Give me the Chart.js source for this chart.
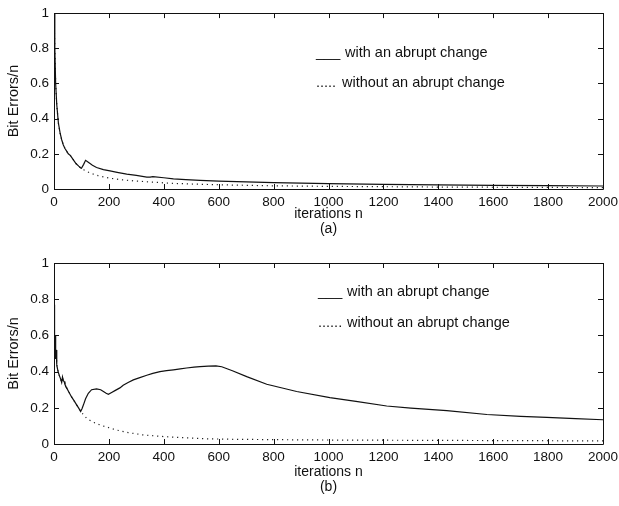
<!DOCTYPE html>
<html>
<head>
<meta charset="utf-8">
<script src="https://cdn.jsdelivr.net/npm/chart.js@4/dist/chart.umd.min.js"></script>
<style>
  html, body { margin: 0; padding: 0; background: #fff; }
  #wrap { position: relative; width: 619px; height: 506px; overflow: hidden; }
  .panel { position: absolute; left: 0; width: 619px; }
  #pa { top: 0; height: 240px; }
  #pb { top: 245px; height: 261px; }
</style>
</head>
<body>
<div id="wrap">
  <div class="panel" id="pa"><canvas id="ca"></canvas></div>
  <div class="panel" id="pb"><canvas id="cb"></canvas></div>
</div>
<script>
// ---------- data ----------
const seriesLabels = ['with an abrupt change', 'without an abrupt change'];
const xTicks = [0, 200, 400, 600, 800, 1000, 1200, 1400, 1600, 1800, 2000];
const yTicks = [0, 0.2, 0.4, 0.6, 0.8, 1];

// (a) with an abrupt change
const aWithN = [0,3,6,10,16,22,28,34,40,46,52,60,70,80,90,97,100,108,115,125,140,155,180,204,230,265,300,338,350,360,400,435,480,532,600,700,800,900,1000,1200,1400,1600,1800,2000];
const aWithV = [1,0.8,0.6,0.48,0.375,0.32,0.28,0.25,0.23,0.215,0.2,0.19,0.167,0.145,0.13,0.12,0.118,0.14,0.163,0.152,0.135,0.122,0.11,0.103,0.095,0.085,0.077,0.067,0.068,0.07,0.064,0.058,0.053,0.049,0.045,0.04,0.036,0.033,0.03,0.026,0.023,0.021,0.019,0.017];
// (a) without an abrupt change
const aWithoutN = [0,3,6,10,16,22,28,34,40,46,52,60,70,80,90,97,110,130,160,200,250,300,350,400,450,532,600,700,800,1000,1200,1400,1600,1800,2000];
const aWithoutV = [1,0.8,0.6,0.48,0.375,0.32,0.28,0.25,0.23,0.215,0.2,0.19,0.167,0.145,0.13,0.12,0.108,0.092,0.076,0.062,0.052,0.045,0.04,0.035,0.031,0.027,0.024,0.021,0.018,0.015,0.013,0.011,0.01,0.009,0.008];

// (b) with an abrupt change
const bWithN = [0,1,3,4,6,8,10,12,15,19,24,28,31,34,37,40,46,55,64,74,83,90,97,102,107,115,125,137,155,170,180,190,198,210,222,240,252,270,289,310,338,360,386,410,435,460,483,510,532,562,590,611,650,702,775,884,1005,1100,1212,1300,1431,1577,1700,1795,1900,2000];
const bWithV = [0.77,0.62,0.5,0.6,0.47,0.52,0.44,0.42,0.4,0.38,0.36,0.34,0.37,0.35,0.345,0.33,0.31,0.285,0.26,0.237,0.215,0.198,0.18,0.195,0.215,0.25,0.28,0.3,0.305,0.3,0.29,0.28,0.275,0.285,0.295,0.31,0.325,0.34,0.354,0.365,0.38,0.39,0.4,0.405,0.41,0.415,0.42,0.425,0.427,0.43,0.432,0.427,0.405,0.372,0.33,0.29,0.256,0.235,0.21,0.198,0.184,0.163,0.153,0.147,0.14,0.134];
// (b) without an abrupt change
const bWithoutN = [0,1,3,4,6,8,10,12,15,19,24,28,31,34,37,40,46,55,64,74,83,90,97,119,140,168,200,228,270,325,400,471,550,653,800,1000,1200,1400,1600,1800,2000];
const bWithoutV = [0.77,0.62,0.5,0.6,0.47,0.52,0.44,0.42,0.4,0.38,0.36,0.34,0.37,0.35,0.345,0.33,0.31,0.285,0.26,0.237,0.215,0.198,0.18,0.142,0.122,0.105,0.09,0.077,0.063,0.05,0.041,0.035,0.029,0.026,0.024,0.022,0.021,0.02,0.019,0.018,0.017];

// ---------- helpers ----------
function pts(xs, ys) { return xs.map((x, i) => ({ x: x, y: ys[i] })); }

const FONT = "'Liberation Sans', Arial, Helvetica, sans-serif";
const INK = '#111';

// Inward tick marks on all four sides + frame
const frameTicks = {
  id: 'frameTicks',
  afterDatasetsDraw(chart) {
    const { ctx, chartArea: a, scales } = chart;
    const L = 5;
    ctx.save();
    ctx.strokeStyle = INK;
    ctx.lineWidth = 1;
    ctx.beginPath();
    ctx.rect(Math.round(a.left) + 0.5, Math.round(a.top) + 0.5, Math.round(a.right - a.left), Math.round(a.bottom - a.top));
    ctx.stroke();
    ctx.beginPath();
    scales.x.ticks.forEach(t => {
      const px = Math.round(scales.x.getPixelForValue(t.value)) + 0.5;
      ctx.moveTo(px, a.bottom); ctx.lineTo(px, a.bottom - L);
      ctx.moveTo(px, a.top); ctx.lineTo(px, a.top + L);
    });
    scales.y.ticks.forEach(t => {
      const py = Math.round(scales.y.getPixelForValue(t.value)) + 0.5;
      ctx.moveTo(a.left, py); ctx.lineTo(a.left + L, py);
      ctx.moveTo(a.right, py); ctx.lineTo(a.right - L, py);
    });
    ctx.stroke();
    ctx.restore();
  }
};

// Text legend inside the axes, like the original figure
const textLegend = {
  id: 'textLegend',
  afterDraw(chart, args, opts) {
    const { ctx, chartArea: a } = chart;
    ctx.save();
    ctx.fillStyle = INK;
    ctx.font = '14.5px ' + FONT;
    ctx.textBaseline = 'middle';
    chart.data.datasets.forEach((ds, i) => {
      const y = a.top + opts.rows[i];
      ctx.fillText(opts.markers[i], a.left + opts.sampleX, y);
      ctx.fillText(ds.label, a.left + opts.textX[i], y);
    });
    ctx.restore();
  }
};

function makeChart(canvasId, dsWith, dsWithout, cfg) {
  return new Chart(document.getElementById(canvasId), {
    type: 'scatter',
    data: {
      datasets: [
        { label: seriesLabels[0], data: dsWith, showLine: true, borderColor: INK, borderWidth: 1.2, pointRadius: 0, tension: 0 },
        { label: seriesLabels[1], data: dsWithout, showLine: true, borderColor: '#222', borderWidth: 1.2, borderDash: [1.2, 3.8], pointRadius: 0, tension: 0 }
      ]
    },
    options: {
      responsive: true,
      maintainAspectRatio: false,
      animation: false,
      devicePixelRatio: 1,
      layout: { padding: { top: cfg.padTop, right: 16, left: 0, bottom: 0 } },
      plugins: {
        legend: { display: false },
        tooltip: { enabled: false },
        textLegend: cfg.legend
      },
      scales: {
        x: {
          type: 'linear', min: 0, max: 2000,
          afterBuildTicks(s) { s.ticks = xTicks.map(v => ({ value: v })); },
          afterFit(s) { s.height = cfg.xHeight; s.paddingRight = 0; s.paddingLeft = 0; },
          grid: { display: false, drawTicks: false },
          border: { display: false },
          ticks: { color: INK, font: { family: FONT, size: 13.5 }, padding: cfg.xTickPad, maxRotation: 0, autoSkip: false,
                   callback: v => String(v) },
          title: { display: true, text: ['iterations n', cfg.caption], color: INK, font: { family: FONT, size: 14, lineHeight: 1.1 }, padding: { top: 0, bottom: cfg.titlePad } }
        },
        y: {
          type: 'linear', min: 0, max: 1,
          afterBuildTicks(s) { s.ticks = yTicks.map(v => ({ value: v })); },
          afterFit(s) { s.width = 54; },
          grid: { display: false, drawTicks: false },
          border: { display: false },
          ticks: { color: INK, font: { family: FONT, size: 13.5 }, padding: 5, callback: v => String(v) },
          title: { display: true, text: 'Bit Errors/n', color: INK, font: { family: FONT, size: 14.5 }, padding: { top: 5, bottom: 0 } }
        }
      }
    },
    plugins: [frameTicks, textLegend]
  });
}

makeChart('ca', pts(aWithN, aWithV), pts(aWithoutN, aWithoutV), {
  padTop: 5, xHeight: 51, xTickPad: 5, titlePad: 3, caption: '(a)',
  legend: { rows: [40, 70], sampleX: 262, textX: [291, 288], markers: ['___', '.....'] }
});
makeChart('cb', pts(bWithN, bWithV), pts(bWithoutN, bWithoutV), {
  padTop: 18, xHeight: 62, xTickPad: 5, titlePad: 11, caption: '(b)',
  legend: { rows: [29, 60], sampleX: 264, textX: [293, 293], markers: ['___', '......'] }
});
</script>
</body>
</html>
